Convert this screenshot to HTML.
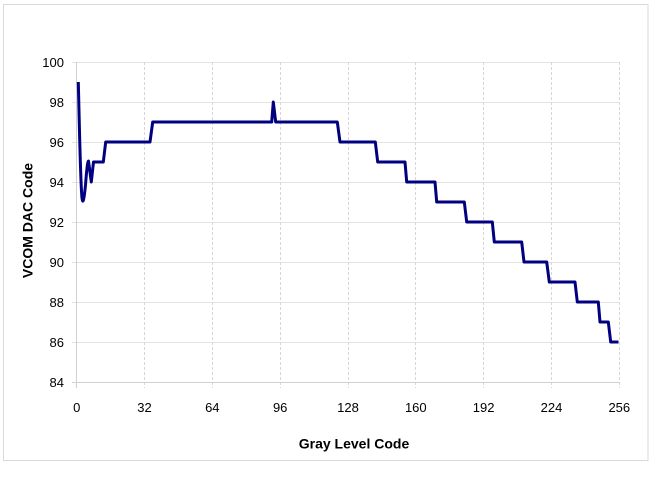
<!DOCTYPE html>
<html>
<head>
<meta charset="utf-8">
<style>
  html, body { margin: 0; padding: 0; background: #ffffff; }
  svg { display: block; }
  text { font-family: "Liberation Sans", "DejaVu Sans", sans-serif; fill: #000; }
</style>
</head>
<body>
<svg width="650" height="478" viewBox="0 0 650 478" xmlns="http://www.w3.org/2000/svg">
  <rect x="0" y="0" width="650" height="478" fill="#ffffff"/>
  <!-- chart frame -->
  <rect x="3.5" y="4.5" width="644.5" height="456" fill="#ffffff" stroke="#d9d9d9" stroke-width="1"/>

  <!-- horizontal gridlines -->
  <g stroke="#e3e3e3" stroke-width="1">
    <line x1="72" y1="62.5" x2="619.5" y2="62.5"/>
    <line x1="72" y1="102.5" x2="619.5" y2="102.5"/>
    <line x1="72" y1="142.5" x2="619.5" y2="142.5"/>
    <line x1="72" y1="182.5" x2="619.5" y2="182.5"/>
    <line x1="72" y1="222.5" x2="619.5" y2="222.5"/>
    <line x1="72" y1="262.5" x2="619.5" y2="262.5"/>
    <line x1="72" y1="302.5" x2="619.5" y2="302.5"/>
    <line x1="72" y1="342.5" x2="619.5" y2="342.5"/>
  </g>
  <!-- vertical gridlines (dashed) -->
  <g stroke="#d6d6d6" stroke-width="1" stroke-dasharray="3,2">
    <line x1="144.5" y1="62" x2="144.5" y2="388"/>
    <line x1="212.5" y1="62" x2="212.5" y2="388"/>
    <line x1="280.5" y1="62" x2="280.5" y2="388"/>
    <line x1="348.5" y1="62" x2="348.5" y2="388"/>
    <line x1="415.5" y1="62" x2="415.5" y2="388"/>
    <line x1="483.5" y1="62" x2="483.5" y2="388"/>
    <line x1="551.5" y1="62" x2="551.5" y2="388"/>
    <line x1="619.5" y1="62" x2="619.5" y2="388"/>
  </g>
  <!-- axes -->
  <g stroke="#d0d0d0" stroke-width="1">
    <line x1="72" y1="382.5" x2="619.5" y2="382.5"/>
    <line x1="76.5" y1="62" x2="76.5" y2="388"/>
  </g>

  <!-- y tick labels -->
  <g font-size="13" text-anchor="end">
    <text x="64" y="67">100</text>
    <text x="64" y="107">98</text>
    <text x="64" y="147">96</text>
    <text x="64" y="187">94</text>
    <text x="64" y="227">92</text>
    <text x="64" y="267">90</text>
    <text x="64" y="307">88</text>
    <text x="64" y="347">86</text>
    <text x="64" y="387">84</text>
  </g>
  <!-- x tick labels -->
  <g font-size="13" text-anchor="middle">
    <text x="76.7" y="412">0</text>
    <text x="144.5" y="412">32</text>
    <text x="212.3" y="412">64</text>
    <text x="280.2" y="412">96</text>
    <text x="348" y="412">128</text>
    <text x="415.8" y="412">160</text>
    <text x="483.6" y="412">192</text>
    <text x="551.5" y="412">224</text>
    <text x="619.3" y="412">256</text>
  </g>

  <!-- axis titles -->
  <text x="354" y="448.5" font-size="14" font-weight="bold" text-anchor="middle">Gray Level Code</text>
  <text transform="translate(32.5,220.5) rotate(-90)" font-size="14" font-weight="bold" text-anchor="middle">VCOM DAC Code</text>

  <!-- data series -->
  <path fill="none" stroke="#000080" stroke-width="3" stroke-linejoin="round" stroke-linecap="butt"
    d="M78.3,82 C79.5,130 80.5,185 82,198 C82.8,205 84,200 85.5,185 C86.5,172 87.5,161 88.5,161 L91.3,182 L93.5,162 L103.3,162 L105.7,142 L150,142 L152.7,122 L271.7,122 L273.3,102 L275.7,122 L337.3,122 L340,142 L375.3,142 L377.7,162 L405,162 L406.7,182 L435,182 L436.7,202 L464.3,202 L466.7,222 L492.3,222 L494.3,242 L521.7,242 L524,262 L546.7,262 L549.3,282 L575,282 L577.3,302 L598.3,302 L600,322 L608.3,322 L610.7,342 L618.5,342"/>
</svg>
</body>
</html>
